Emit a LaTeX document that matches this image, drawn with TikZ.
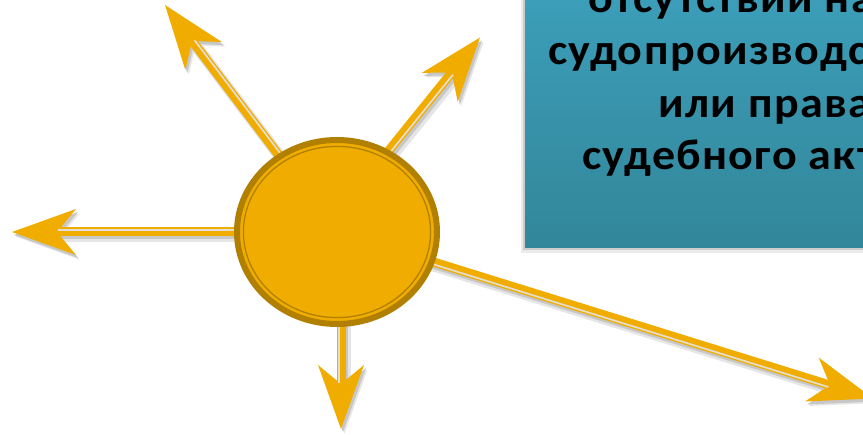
\documentclass[tikz,border=0pt]{standalone}
\usepackage{fontspec}
\usepackage{graphicx}
\setmainfont{Carlito}
\newfontfamily\boxfont[LetterSpace=3]{Carlito}
\usetikzlibrary{arrows.meta,calc,backgrounds,shapes.geometric}
\definecolor{sun}{RGB}{240,173,0}
\definecolor{sunring}{RGB}{178,128,0}
\definecolor{stripecol}{RGB}{228,222,208}
\definecolor{boxtop}{RGB}{60,158,185}
\definecolor{boxbot}{RGB}{50,134,153}
\newcommand{\wide}[1]{\scalebox{1.07}[1]{#1}}
\begin{document}
\begin{tikzpicture}[x=1pt,y=1pt,
  tipshape/.style={-{Stealth[length=64pt,width=46pt,inset=19pt,line width=0pt]}},
  ray/.style={tipshape, draw=sun, line width=9pt},
  raystripe/.style={draw=stripecol, line width=1.7pt, shorten >=46pt},
  rayshadowA/.style={tipshape, draw=black!10, line width=12pt, transform canvas={shift={(3.5pt,-4.5pt)}}},
  rayshadowB/.style={tipshape, draw=black!22, line width=9pt, transform canvas={shift={(2pt,-3pt)}}},
  sundisk/.style={ellipse, minimum width=200pt, minimum height=184pt, inner sep=0pt, fill=sun, draw=sunring, line width=6pt},
  txt/.style={font=\boxfont\fontsize{43pt}{54pt}\selectfont\bfseries, inner sep=0pt, text=black, anchor=base west}
  ]
\useasboundingbox (0,0) rectangle (863,435);

% text box with shadow
\fill[black!8] (521,182) rectangle (875,440);
\fill[black!20] (523,185) rectangle (875,440);
\shade[top color=boxtop, bottom color=boxbot] (525,187) rectangle (875,440);

% sun
\node[sundisk] (c) at (337,203) {};
\draw[sunring, line width=1.3pt] (c.center) ellipse [x radius=93.6pt, y radius=85.6pt];

% targets
\coordinate (t1) at (165,430);
\coordinate (t2) at (480,397.5);
\coordinate (t3) at (12,203);
\coordinate (t4) at (341,6);
\coordinate (t5) at (873,36.5);
\coordinate (s2) at (323,203);
\coordinate (s4) at (341,203);

\begin{pgfonlayer}{background}
  \fill[white] (0,0) rectangle (863,435);
  \foreach \s/\t in {c.center/t1, s2/t2, c.center/t3, s4/t4, c.center/t5}{
    \draw[rayshadowA] (\s) -- (\t);
  }
  \foreach \s/\t in {c.center/t1, s2/t2, c.center/t3, s4/t4, c.center/t5}{
    \draw[rayshadowB] (\s) -- (\t);
  }
  \foreach \s/\t in {c.center/t1, s2/t2, c.center/t3, s4/t4, c.center/t5}{
    \draw[ray] (\s) -- (\t);
    \draw[raystripe] ($(\s)!2.3pt!-90:(\t)$) -- ($(\t)!2.3pt!90:(\s)$);
  }
\end{pgfonlayer}

% text
\node[txt] (l1) at (588,422) {\wide{отсутствии на}};
\node[txt] (l2) at (548,370) {\wide{судопроизводс}};
\node[txt] (l3) at (658,317) {\wide{или права}};
\node[txt] (l4) at (582,265) {\wide{судебного акт}};
\end{tikzpicture}
\end{document}
